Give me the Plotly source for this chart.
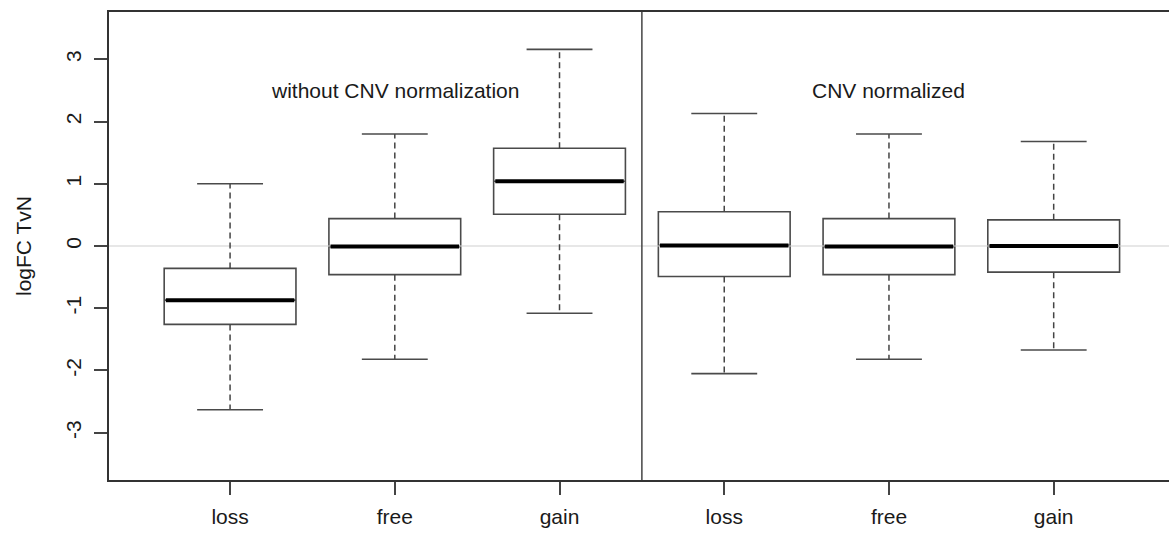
import plotly.graph_objects as go

# Box statistics for logFC (tumour vs normal), grouped by copy-number state
groups = ["loss", "free", "gain", "loss", "free", "gain"]
positions = [1, 2, 3, 4, 5, 6]
lower_whisker = [-2.63, -1.82, -1.08, -2.05, -1.82, -1.67]
q1 = [-1.26, -0.46, 0.51, -0.49, -0.46, -0.42]
median = [-0.87, -0.01, 1.04, 0.01, -0.01, 0.00]
q3 = [-0.36, 0.44, 1.57, 0.55, 0.44, 0.42]
upper_whisker = [1.00, 1.80, 3.16, 2.13, 1.80, 1.68]

panel_titles = ["without CNV normalization", "CNV normalized"]
panel_title_x = [2, 5]
panel_title_y = 2.5
divider_x = 3.5

y_ticks = [-3, -2, -1, 0, 1, 2, 3]

FONT = "Liberation Sans, Arial, Helvetica, sans-serif"
TXT = "#1a1a1a"
BOX_W = 0.8
STAPLE_W = 0.4

fig = go.Figure()

# horizontal reference line at zero
fig.add_trace(go.Scatter(
    x=[0.0, 7.0], y=[0, 0], mode="lines",
    line=dict(color="#cfcfcf", width=1.2), hoverinfo="skip", showlegend=False,
))

# dashed whiskers and their staples
wx, wy, sx, sy = [], [], [], []
for p, lo, a, b, hi in zip(positions, lower_whisker, q1, q3, upper_whisker):
    wx += [p, p, None, p, p, None]
    wy += [b, hi, None, a, lo, None]
    sx += [p - STAPLE_W / 2, p + STAPLE_W / 2, None, p - STAPLE_W / 2, p + STAPLE_W / 2, None]
    sy += [hi, hi, None, lo, lo, None]
fig.add_trace(go.Scatter(
    x=wx, y=wy, mode="lines",
    line=dict(color="#444444", width=1.5, dash="6px,4px"),
    hoverinfo="skip", showlegend=False,
))
fig.add_trace(go.Scatter(
    x=sx, y=sy, mode="lines",
    line=dict(color="#4a4a4a", width=1.6),
    hoverinfo="skip", showlegend=False,
))

# boxes (interquartile range)
for p, a, m, b in zip(positions, q1, median, q3):
    fig.add_trace(go.Box(
        x=[p], q1=[a], median=[m], q3=[b], lowerfence=[a], upperfence=[b],
        width=BOX_W, boxpoints=False, fillcolor="white",
        line=dict(color="#4a4a4a", width=1.6), whiskerwidth=0,
        hoverinfo="skip", showlegend=False,
    ))

# thick median bars
mx, my = [], []
for p, m in zip(positions, median):
    mx += [p - BOX_W / 2 + 0.01, p + BOX_W / 2 - 0.01, None]
    my += [m, m, None]
fig.add_trace(go.Scatter(
    x=mx, y=my, mode="lines",
    line=dict(color="black", width=4), hoverinfo="skip", showlegend=False,
))

# vertical divider between the two panels
fig.add_trace(go.Scatter(
    x=[divider_x, divider_x], y=[-3.76, 3.76], mode="lines",
    line=dict(color="#444444", width=1.5), hoverinfo="skip", showlegend=False,
))

for t, xp in zip(panel_titles, panel_title_x):
    fig.add_annotation(
        x=xp, y=panel_title_y, xref="x", yref="y", text=t, showarrow=False,
        font=dict(family=FONT, size=21, color=TXT), xanchor="center", yanchor="middle",
    )

fig.update_layout(
    width=1169, height=533,
    margin=dict(l=109, r=0, t=12, b=53),
    paper_bgcolor="white", plot_bgcolor="white",
    font=dict(family=FONT, size=21, color=TXT),
    showlegend=False,
    boxmode="overlay",
)
fig.update_xaxes(
    range=[0.265, 6.70], tickmode="array", tickvals=positions, ticktext=groups,
    showgrid=False, zeroline=False, showline=True, linecolor="#333333", linewidth=2,
    mirror=True, ticks="outside", ticklen=13, tickwidth=2, tickcolor="#444444",
    ticklabelstandoff=4,
    tickfont=dict(family=FONT, size=21, color=TXT),
)
fig.update_yaxes(
    range=[-3.76, 3.76], tickmode="array", tickvals=y_ticks,
    ticktext=[str(v) for v in y_ticks], tickangle=-90,
    showgrid=False, zeroline=False, showline=True, linecolor="#333333", linewidth=2,
    ticks="outside", ticklen=13, tickwidth=2, tickcolor="#444444",
    ticklabelstandoff=5,
    tickfont=dict(family=FONT, size=21, color=TXT),
    title=dict(text="logFC TvN", font=dict(family=FONT, size=21, color=TXT), standoff=24),
)

fig.write_html("out.html")
